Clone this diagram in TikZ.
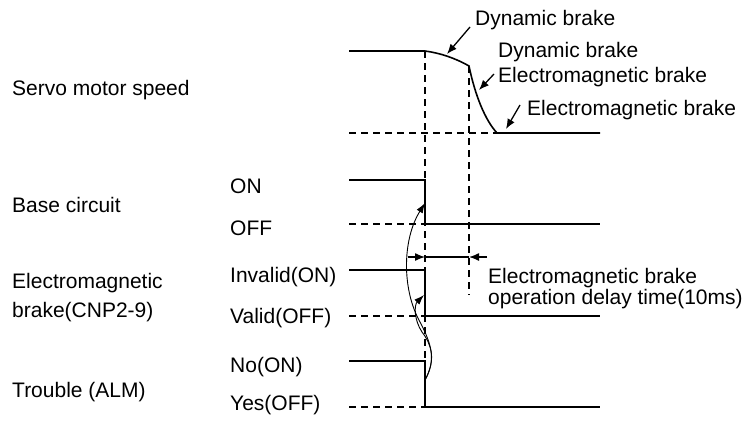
\documentclass[tikz,border=0pt]{standalone}
\usepackage{fontspec}
\setmainfont{Liberation Sans}
\usetikzlibrary{arrows.meta}

\tikzset{
  sig/.style={line width=1.6pt},
  lvl/.style={line width=1.6pt, dash pattern=on 7pt off 5pt},
  txt/.style={anchor=base west, inner sep=0pt, font=\fontsize{21}{24}\selectfont},
  ptr/.style={line width=1.3pt, -{Latex[length=10pt,width=8pt]}},
  cause/.style={line width=0.9pt, -{Latex[length=10pt,width=7pt]}}
}

\begin{document}
\begin{tikzpicture}[x=1pt,y=-1pt]
\useasboundingbox (0,0) rectangle (746,421);

% Signal names
\node[txt] (speed) at (12,95) {Servo motor speed};
\node[txt] (base) at (12,212) {Base circuit};
\node[txt] (brakeA) at (12,288) {Electromagnetic};
\node[txt] (brakeB) at (12,317) {brake(CNP2-9)};
\node[txt] (alm) at (12,397) {Trouble (ALM)};

% Levels
\node[txt] (baseOn) at (230,193) {ON};
\node[txt] (baseOff) at (230,235) {OFF};
\node[txt] (brakeOn) at (230,282) {Invalid(ON)};
\node[txt] (brakeOff) at (230,323) {Valid(OFF)};
\node[txt] (almOn) at (230,372) {No(ON)};
\node[txt] (almOff) at (230,410) {Yes(OFF)};

% Speed curve
\draw[sig] (349,51) -- (425,51) .. controls (440,53) and (455,58) .. (469,66)
  .. controls (475,95) and (485,120) .. (497,133) -- (600,133);
\draw[lvl] (349,133) -- (497,133);

% Base circuit, brake, trouble
\foreach \hi/\lo in {180/224, 270/316, 361/407}{
  \draw[sig] (349,\hi) -- (425,\hi) -- (425,\lo) -- (600,\lo);
  \draw[lvl] (349,\lo) -- (425,\lo);
}

% Time marks
\draw[lvl] (425,51) -- (425,361);
\draw[lvl] (469,66) -- (469,295);

% Speed labels
\node[txt] (dyn) at (475,25) {Dynamic brake};
\node[txt] (both1) at (498,57) {Dynamic brake};
\node[txt] (both2) at (498,82) {Electromagnetic brake};
\node[txt] (emb) at (527,115) {Electromagnetic brake};
\coordinate (dynTail) at (470,27);
\coordinate (dynTip) at (447,54);
\coordinate (bothTail) at (494,74);
\coordinate (bothTip) at (479,90);
\coordinate (embTail) at (520,105);
\coordinate (embTip) at (506,129);
\draw[ptr] (dynTail) -- (dynTip);
\draw[ptr] (bothTail) -- (bothTip);
\draw[ptr] (embTail) -- (embTip);

% Delay time
\node[txt] (delayA) at (488,283) {Electromagnetic brake};
\node[txt] (delayB) at (488,304) {operation delay time(10ms)};
\coordinate (tA) at (425,257);
\coordinate (tB) at (469,257);
\coordinate (tAin) at (408,257);
\coordinate (tBin) at (487,257);
\draw[ptr] (tAin) -- (tA);
\draw[line width=1.3pt] (tA) -- (tB);
\draw[ptr] (tBin) -- (tB);

% Trouble causes the other edges
\coordinate (almEdge) at (425,380);
\coordinate (baseEdge) at (425,203);
\coordinate (brakeEdge) at (424,295);
\draw[cause] (almEdge) .. controls (436,360) and (432,345) .. (420,322)
  .. controls (402,290) and (402,240) .. (baseEdge);
\draw[cause] (almEdge) .. controls (436,360) and (432,345) .. (422,332)
  .. controls (414,320) and (414,305) .. (brakeEdge);
\end{tikzpicture}
\end{document}
